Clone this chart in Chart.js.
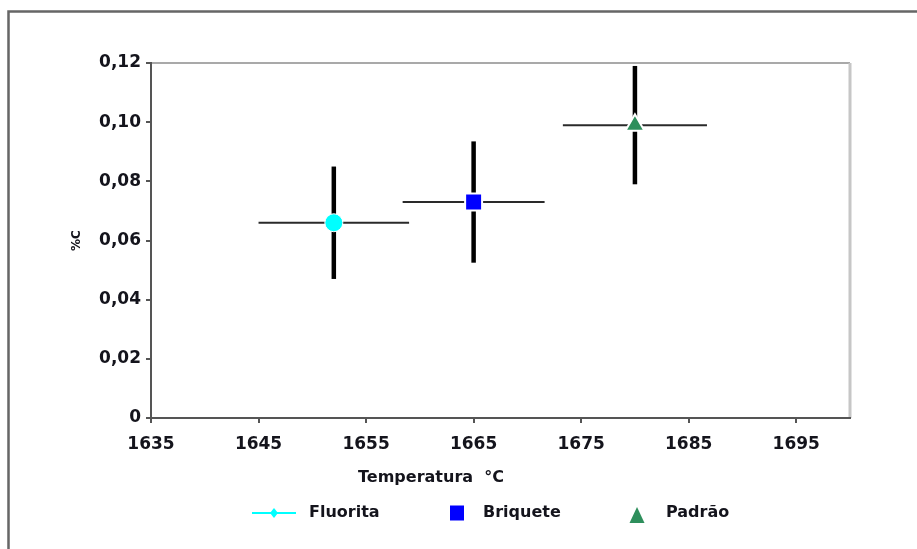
<!DOCTYPE html>
<html lang="pt">
<head>
<meta charset="utf-8">
<title>%C x Temperatura</title>
<script src="https://cdn.jsdelivr.net/npm/chart.js@4.4.1/dist/chart.umd.min.js"></script>
<style>
  html, body { margin: 0; padding: 0; background: #fff; overflow: hidden; }
  #grafico { display: block; }
</style>
</head>
<body>
<canvas id="grafico" width="917" height="549"></canvas>
<script>
// Teor de carbono (%C) em função da temperatura, com barras de erro nos dois eixos
const series = ['Fluorita', 'Briquete', 'Padrão'];
const temperatura = [1652, 1665, 1680];
const carbono = [0.066, 0.073, 0.099];
const erroTemperatura = [7, 6.6, 6.7];
const erroCarbono = [0.019, 0.0205, 0.02];
const xTicks = [1635, 1645, 1655, 1665, 1675, 1685, 1695];
const yTicks = [0, 0.02, 0.04, 0.06, 0.08, 0.10, 0.12];

const cores = ['#00ffff', '#0000ff', '#2e8f5c'];
const estilos = ['circle', 'rect', 'triangle'];
const raios = [9, 12, 11];

const FONTE = "'DejaVu Sans', sans-serif";
const TEXTO = '#14141c';
const EIXO = '#555';

// pontos primeiro (ordem 1 = desenhados por cima), depois as barras de erro
const datasets = series.map((nome, i) => ({
    type: 'scatter',
    label: nome,
    data: [{x: temperatura[i], y: carbono[i]}],
    pointStyle: estilos[i],
    pointRadius: raios[i],
    pointHoverRadius: raios[i],
    backgroundColor: cores[i],
    borderColor: '#fff',
    borderWidth: i === 0 ? 1 : 2,
    order: 1
}));
series.forEach((nome, i) => {
    // barra horizontal (temperatura)
    datasets.push({
        type: 'line',
        label: nome + ' erro T',
        data: [
            {x: temperatura[i] - erroTemperatura[i], y: carbono[i]},
            {x: temperatura[i] + erroTemperatura[i], y: carbono[i]}
        ],
        borderColor: '#2a2a2a',
        borderWidth: 2,
        pointRadius: 0,
        order: 3
    });
    // barra vertical (%C)
    datasets.push({
        type: 'line',
        label: nome + ' erro C',
        data: [
            {x: temperatura[i], y: carbono[i] - erroCarbono[i]},
            {x: temperatura[i], y: carbono[i] + erroCarbono[i]}
        ],
        borderColor: '#000',
        borderWidth: 4.5,
        borderCapStyle: 'butt',
        pointRadius: 0,
        order: 2
    });
});

// moldura externa e bordas de cima/direita da área de plotagem
const moldura = {
    id: 'moldura',
    beforeDraw(chart) {
        const {ctx, chartArea: a} = chart;
        ctx.save();
        ctx.fillStyle = '#fff';
        ctx.fillRect(0, 0, chart.width, chart.height);
        ctx.strokeStyle = '#666';
        ctx.lineWidth = 2.5;
        ctx.strokeRect(8.5, 11.5, chart.width + 40, chart.height + 40);
        ctx.strokeStyle = '#8c8c8c';
        ctx.lineWidth = 1.5;
        ctx.beginPath();
        ctx.moveTo(a.left, a.top);
        ctx.lineTo(a.right, a.top);
        ctx.stroke();
        ctx.strokeStyle = '#c6c6c6';
        ctx.lineWidth = 3;
        ctx.beginPath();
        ctx.moveTo(a.right, a.top);
        ctx.lineTo(a.right, a.bottom);
        ctx.stroke();
        ctx.restore();
    }
};

// título do eixo x e legenda embaixo
const legendaInferior = {
    id: 'legendaInferior',
    afterDraw(chart) {
        const ctx = chart.ctx;
        ctx.save();
        ctx.font = 'bold 16px ' + FONTE;
        ctx.fillStyle = TEXTO;
        ctx.textBaseline = 'middle';
        ctx.textAlign = 'center';
        ctx.fillText('Temperatura  °C', 431, 478);

        const y = 513;
        const marcas = [274, 457, 637];
        const textos = [309, 483, 666];
        ctx.textAlign = 'left';
        series.forEach((nome, i) => {
            const x = marcas[i];
            ctx.fillStyle = cores[i];
            ctx.strokeStyle = cores[i];
            if (i === 0) {
                ctx.lineWidth = 2;
                ctx.beginPath();
                ctx.moveTo(x - 22, y);
                ctx.lineTo(x + 22, y);
                ctx.stroke();
                ctx.beginPath();
                ctx.moveTo(x, y - 5);
                ctx.lineTo(x + 4, y);
                ctx.lineTo(x, y + 5);
                ctx.lineTo(x - 4, y);
                ctx.closePath();
                ctx.fill();
            } else if (i === 1) {
                ctx.fillRect(x - 7, y - 7.5, 14, 15);
            } else {
                ctx.beginPath();
                ctx.moveTo(x, y - 6);
                ctx.lineTo(x + 7.5, y + 10);
                ctx.lineTo(x - 7.5, y + 10);
                ctx.closePath();
                ctx.fill();
            }
            ctx.fillStyle = TEXTO;
            ctx.fillText(nome, textos[i], y);
        });
        ctx.restore();
    }
};

const fonteTicks = {family: FONTE, size: 17, weight: 'bold'};

new Chart(document.getElementById('grafico'), {
    type: 'scatter',
    data: {datasets},
    options: {
        responsive: false,
        animation: false,
        events: [],
        layout: {padding: {left: 10, top: 63, right: 67, bottom: 0}},
        plugins: {
            legend: {display: false},
            tooltip: {enabled: false}
        },
        scales: {
            x: {
                type: 'linear',
                min: 1635,
                max: 1700,
                afterBuildTicks: axis => { axis.ticks = xTicks.map(v => ({value: v})); },
                afterFit: axis => { axis.height = 131; },
                grid: {drawOnChartArea: false, color: EIXO, lineWidth: 2, tickLength: 5},
                border: {color: EIXO, width: 2},
                ticks: {
                    color: TEXTO,
                    font: fonteTicks,
                    padding: 11,
                    maxRotation: 0,
                    autoSkip: false,
                    callback: v => String(v)
                }
            },
            y: {
                type: 'linear',
                min: 0,
                max: 0.12,
                afterBuildTicks: axis => { axis.ticks = yTicks.map(v => ({value: v})); },
                afterFit: axis => { axis.width = 141; },
                grid: {drawOnChartArea: false, color: EIXO, lineWidth: 2, tickLength: 5},
                border: {color: EIXO, width: 2},
                ticks: {
                    color: TEXTO,
                    font: fonteTicks,
                    padding: 5,
                    autoSkip: false,
                    callback: v => v === 0 ? '0' : v.toFixed(2).replace('.', ',')
                },
                title: {
                    display: true,
                    text: '%C',
                    color: TEXTO,
                    font: {family: FONTE, size: 12, weight: 'bold'},
                    padding: {top: 60, bottom: 0}
                }
            }
        }
    },
    plugins: [moldura, legendaInferior]
});
</script>
</body>
</html>
